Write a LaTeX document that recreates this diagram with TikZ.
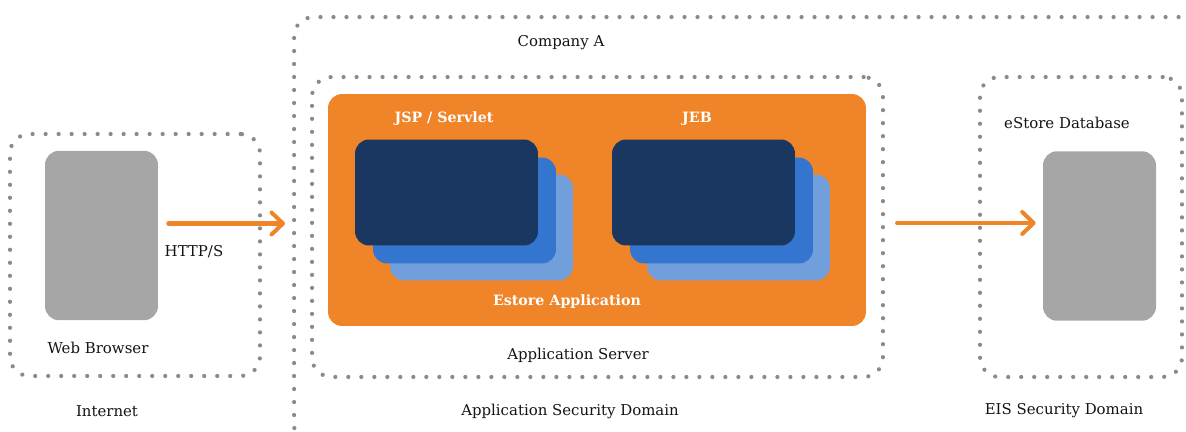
\documentclass[tikz,border=0pt]{standalone}
\usepackage{fontspec}
\setmainfont{DejaVu Serif}
\usetikzlibrary{positioning,arrows.meta}

\definecolor{brandorange}{RGB}{240,132,40}
\definecolor{cardnavy}{RGB}{25,55,96}
\definecolor{cardblue}{RGB}{52,117,207}
\definecolor{cardsky}{RGB}{112,159,219}
\definecolor{hostgrey}{RGB}{166,166,166}
\definecolor{dotgrey}{RGB}{138,138,138}
\definecolor{inkgrey}{RGB}{20,20,20}

\tikzset{
  secdomain/.style={draw=dotgrey, line width=2.4pt, line cap=round,
    dash pattern=on 0pt off 7.4pt, rounded corners=11pt, inner sep=0pt},
  hostbox/.style={fill=hostgrey, rounded corners=8pt, inner sep=0pt,
    minimum width=2.26cm, minimum height=3.39cm},
  card/.style={rounded corners=8pt, inner sep=0pt,
    minimum width=3.66cm, minimum height=2.12cm},
  flow/.style={draw=brandorange, line width=2.3pt, line cap=round,
    -{Straight Barb[length=6.5pt, width=12.5pt, line cap=round, line join=round]}},
  lbl/.style={font=\fontsize{8.5}{10}\selectfont, text=inkgrey},
  whitelbl/.style={font=\fontsize{8.1}{10}\selectfont\bfseries, text=white}
}

\begin{document}
\begin{tikzpicture}[x=0.02cm, y=-0.02cm]
    % page frame
    \useasboundingbox (0,0) rectangle (1186,432);
    \clip (0,0) rectangle (1186,432);

    % Security domains
    \node[secdomain, minimum width=19.12cm, minimum height=8.56cm] (company) at (772,231) {};
    \node[secdomain, minimum width=5.0cm, minimum height=4.84cm] (internet) at (135,255) {};
    \node[secdomain, minimum width=11.42cm, minimum height=6.0cm] (appsrv) at (597.5,227) {};
    \node[secdomain, minimum width=4.04cm, minimum height=6.0cm] (eis) at (1081,227) {};

    % Application
    \node[fill=brandorange, rounded corners=8pt, inner sep=0pt,
      minimum width=10.76cm, minimum height=4.64cm] (estore) at (597,210) {};

    % Stacked components
    \foreach \d/\c in {35/cardsky, 18/cardblue, 0/cardnavy} {
      \node[card, fill=\c] (jsp\d) at ([shift={(\d,\d)}] 446.5,192.5) {};
      \node[card, fill=\c] (jeb\d) at ([shift={(\d,\d)}] 703.5,192.5) {};
    }

    % Clients and database
    \node[hostbox] (browser) at (101.5,235.5) {};
    \node[hostbox] (db) at (1099.5,236) {};

    % Connectors
    \draw[flow] ([shift={(10,-12)}]browser.east) -- ([shift={(-7,-12)}]browser.east -| company.west);
    \draw[flow] ([shift={(12,-4)}]appsrv.east) -- ([shift={(-7,-4)}]appsrv.east -| db.west);

    % Labels
    \node[lbl] (companylbl) at (561,43) {Company A};
    \node[whitelbl] (jsplbl) at (444,119) {JSP / Servlet};
    \node[whitelbl] (jeblbl) at (697,119) {JEB};
    \node[whitelbl] (estorelbl) at (567,302) {Estore Application};
    \node[lbl] (appsrvlbl) at (578,355) {Application Server};
    \node[lbl] (browserlbl) at (98,348) {Web Browser};
    \node[lbl] (httplbl) at (194,252) {HTTP/S};
    \node[lbl] (dblbl) at (1067,123) {eStore Database};
    \node[lbl] (internetlbl) at (107,411) {Internet};
    \node[lbl] (asdlbl) at (570,411) {Application Security Domain};
    \node[lbl] (eislbl) at (1064,411) {EIS Security Domain};
\end{tikzpicture}
\end{document}
